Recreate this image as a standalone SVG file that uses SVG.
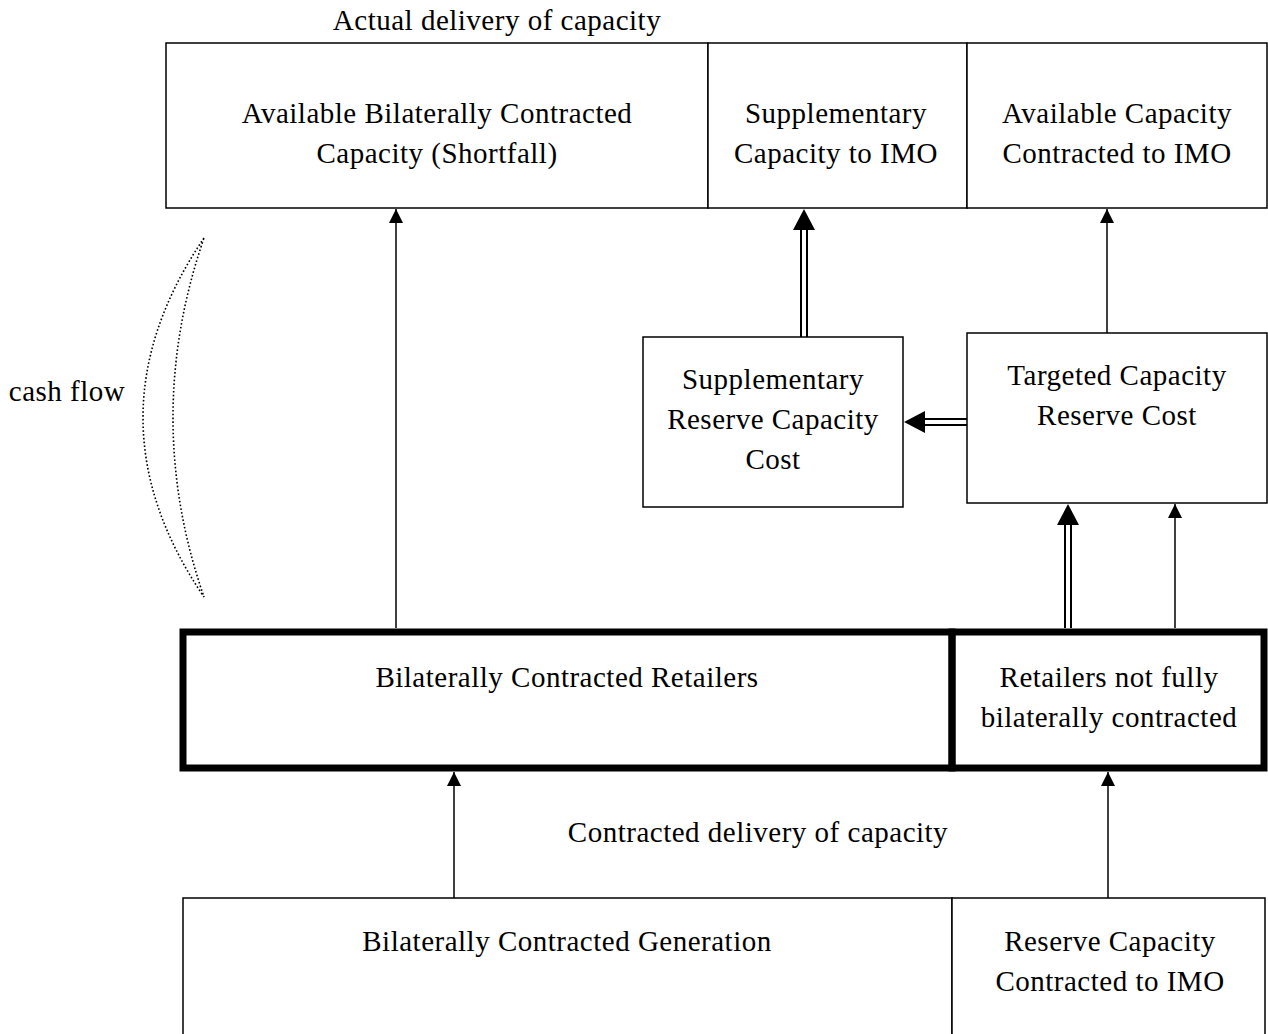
<svg xmlns="http://www.w3.org/2000/svg" width="1268" height="1034" viewBox="0 0 1268 1034">
<defs>
<style>
text{font-family:"Liberation Serif","DejaVu Serif",serif;font-size:29px;letter-spacing:0.5px;fill:#000;text-anchor:middle}
.box{fill:#fff;stroke:#000;stroke-width:1.5}
.thick{fill:none;stroke:#000;stroke-width:7}
.ln{stroke:#000;stroke-width:1.5;fill:none}
.dl{stroke:#000;stroke-width:2;fill:none}
</style>
<marker id="ah" markerWidth="14" markerHeight="14" refX="14" refY="7" orient="auto" markerUnits="userSpaceOnUse"><path d="M0,0L14,7L0,14Z" fill="#000"/></marker>
</defs>
<rect width="1268" height="1034" fill="#fff"/>
<text x="497" y="30">Actual delivery of capacity</text>
<text x="758" y="842">Contracted delivery of capacity</text>
<g id="cashflow">
<path d="M204,238 Q82,418 204,597 Q142,418 204,238Z" fill="none" stroke="#000" stroke-width="1.6" stroke-dasharray="1.6 2.2"/>
<text x="67" y="401">cash flow</text>
</g>
<g id="n-abcc"><rect class="box" x="166" y="43" width="542" height="165"/><text x="437" y="123">Available Bilaterally Contracted</text><text x="437" y="163">Capacity (Shortfall)</text></g>
<g id="n-sci"><rect class="box" x="708" y="43" width="259" height="165"/><text x="836" y="123">Supplementary</text><text x="836" y="163">Capacity to IMO</text></g>
<g id="n-acci"><rect class="box" x="967" y="43" width="300" height="165"/><text x="1117" y="123">Available Capacity</text><text x="1117" y="163">Contracted to IMO</text></g>
<g id="n-srcc"><rect class="box" x="643" y="337" width="260" height="170"/><text x="773" y="389">Supplementary</text><text x="773" y="429">Reserve Capacity</text><text x="773" y="469">Cost</text></g>
<g id="n-tcrc"><rect class="box" x="967" y="333" width="300" height="170"/><text x="1117" y="385">Targeted Capacity</text><text x="1117" y="425">Reserve Cost</text></g>
<g id="n-bcr"><rect class="thick" x="183" y="632" width="769" height="136"/><text x="567" y="687">Bilaterally Contracted Retailers</text></g>
<g id="n-rnf"><rect class="thick" x="952" y="632" width="312" height="136"/><text x="1109" y="687">Retailers not fully</text><text x="1109" y="727">bilaterally contracted</text></g>
<g id="n-bcg"><path class="box" d="M183,1034V898H952V1034"/><text x="567" y="951">Bilaterally Contracted Generation</text></g>
<g id="n-rcci"><path class="box" d="M952,1034V898H1265V1034"/><text x="1110" y="951">Reserve Capacity</text><text x="1110" y="991">Contracted to IMO</text></g>
<g id="connectors">
<line class="ln" x1="396" y1="628" x2="396" y2="209" marker-end="url(#ah)"/>
<line class="ln" x1="1107" y1="333" x2="1107" y2="209" marker-end="url(#ah)"/>
<line class="ln" x1="1175" y1="628" x2="1175" y2="504" marker-end="url(#ah)"/>
<line class="ln" x1="454" y1="898" x2="454" y2="772" marker-end="url(#ah)"/>
<line class="ln" x1="1108" y1="898" x2="1108" y2="772" marker-end="url(#ah)"/>
<g id="dbl1"><line class="dl" x1="801" y1="337" x2="801" y2="228"/><line class="dl" x1="807" y1="337" x2="807" y2="228"/><path d="M793,230L804,209L815,230Z"/></g>
<g id="dbl2"><line class="dl" x1="1065" y1="628" x2="1065" y2="524"/><line class="dl" x1="1071" y1="628" x2="1071" y2="524"/><path d="M1057,525L1068,504L1079,525Z"/></g>
<g id="dbl3"><line class="dl" x1="967" y1="419" x2="923" y2="419"/><line class="dl" x1="967" y1="425" x2="923" y2="425"/><path d="M925,411L904,422L925,433Z"/></g>
</g>
</svg>
